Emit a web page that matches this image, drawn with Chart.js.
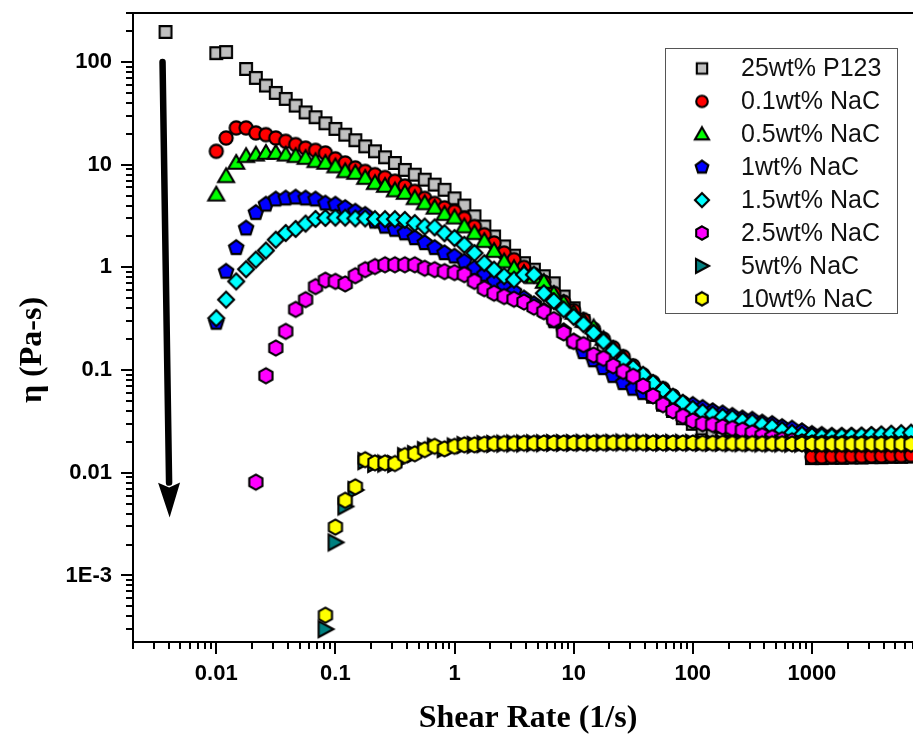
<!DOCTYPE html>
<html lang="en">

<head>
    <meta charset="UTF-8">
    <title>Viscosity vs Shear Rate</title>
    <script src="https://cdn.jsdelivr.net/npm/chart.js"></script>
    <style>
        html, body { margin: 0; padding: 0; background: #fff; overflow: hidden; }
        canvas { display: block; }
    </style>
</head>

<body>
    <canvas id="flowChart" width="960" height="740"></canvas>

    <script>
        // Shear rates (1/s); the first one only belongs to the P123 series
        const shearRate = [0.00375,
            0.01, 0.0121, 0.0147, 0.0178, 0.0215, 0.0261, 0.0316, 0.0383, 0.0464, 0.0562, 0.0681, 0.0825,
            0.1, 0.121, 0.147, 0.178, 0.215, 0.261, 0.316, 0.383, 0.464, 0.562, 0.681, 0.825,
            1, 1.21, 1.47, 1.78, 2.15, 2.61, 3.16, 3.83, 4.64, 5.62, 6.81, 8.25,
            10, 12.1, 14.7, 17.8, 21.5, 26.1, 31.6, 38.3, 46.4, 56.2, 68.1, 82.5,
            100, 121, 147, 178, 215, 261, 316, 383, 464, 562, 681, 825,
            1000, 1210, 1470, 1780, 2150, 2610, 3160, 3830, 4640, 5620, 6810];

        // Viscosity (Pa-s) for each sample, aligned with shearRate
        const p123 = [196,
            122, 125, null, 85.5, 70, 59, 50, 43.7, 37.6, 32.3, 29, 25.3,
            22.3, 19.6, 17.3, 15.1, 13.5, 11.8, 10.4, 8.9, 8.0, 7.15, 6.4, 5.7,
            4.7, 4.0, 3.14, 2.5, 2.0, 1.6, 1.3, 1.1, 0.95, 0.82, 0.7, 0.52,
            0.4, 0.3, 0.22, 0.17, 0.13, 0.105, 0.085, 0.068, 0.055, 0.046, 0.04, 0.034,
            0.03, 0.027, 0.025, 0.024, 0.023, 0.022, 0.021, 0.021, 0.02, 0.02, 0.0195, 0.019,
            0.0139, 0.0139, 0.014, 0.014, 0.0141, 0.0141, 0.0142, 0.0142, 0.0143, 0.0143, 0.0144];

        const nac01 = [null,
            13.5, 18.2, 22.8, 22.8, 20.4, 19.6, 18.2, 16.9, 15.7, 14.5, 13.8, 13.0,
            11.4, 10.4, 9.3, 8.6, 8.0, 7.5, 6.9, 6.2, 5.5, 4.7, 4.2, 3.8,
            3.5, 3.0, 2.5, 2.08, 1.73, 1.38, 1.19, 1.0, 0.85, 0.72, 0.56, 0.46,
            0.38, 0.31, 0.25, 0.2, 0.165, 0.135, 0.11, 0.09, 0.076, 0.066, 0.056, 0.048,
            0.042, 0.037, 0.033, 0.03, 0.028, 0.026, 0.025, 0.024, 0.023, 0.022, 0.0215, 0.021,
            0.0143, 0.0143, 0.0144, 0.0144, 0.0145, 0.0145, 0.0146, 0.0146, 0.0147, 0.0147, 0.0148];

        const nac05 = [null,
            5.1, 7.7, 10.4, 12.1, 12.5, 13.0, 13.0, 12.5, 12.1, 11.6, 10.8, 10.4,
            9.6, 8.6, 8.3, 7.4, 6.6, 6.2, 5.6, 5.3, 4.7, 4.2, 3.8, 3.3,
            3.05, 2.5, 2.15, 1.8, 1.44, 1.14, 0.98, 0.88, 0.8, 0.72, 0.55, 0.45,
            0.36, 0.3, 0.26, 0.2, 0.16, 0.13, 0.105, 0.085, 0.07, 0.058, 0.049, 0.042,
            0.037, 0.033, 0.03, 0.028, 0.026, 0.025, 0.024, 0.023, 0.022, 0.0215, 0.021, 0.0205,
            0.02, 0.02, 0.0199, 0.0198, 0.0197, 0.0196, 0.0195, 0.0195, 0.0195, 0.0195, 0.0195];

        const nac1 = [null,
            0.29, 0.91, 1.55, 2.4, 3.4, 4.1, 4.6, 4.7, 4.8, 4.7, 4.6, 4.2,
            4.1, 3.8, 3.5, 3.26, 2.8, 2.5, 2.33, 2.15, 1.93, 1.73, 1.55, 1.38,
            1.28, 1.14, 0.98, 0.85, 0.73, 0.65, 0.58, 0.5, 0.44, 0.38, 0.3, 0.24,
            0.19, 0.15, 0.125, 0.105, 0.088, 0.075, 0.066, 0.06, 0.056, 0.053, 0.05, 0.048,
            0.046, 0.043, 0.04, 0.038, 0.036, 0.034, 0.033, 0.031, 0.03, 0.028, 0.027, 0.0255,
            0.024, 0.0235, 0.023, 0.023, 0.023, 0.023, 0.0232, 0.0234, 0.0236, 0.0238, 0.024];

        const nac15 = [null,
            0.32, 0.485, 0.73, 0.96, 1.19, 1.46, 1.86, 2.16, 2.37, 2.67, 2.96, 3.03,
            3.05, 3.05, 3.0, 3.0, 2.95, 2.95, 2.95, 2.9, 2.7, 2.5, 2.45, 2.15,
            1.93, 1.66, 1.38, 1.1, 0.95, 0.82, 0.76, 0.85, 0.85, 0.56, 0.47, 0.39,
            0.33, 0.28, 0.23, 0.19, 0.155, 0.125, 0.105, 0.09, 0.075, 0.064, 0.055, 0.048,
            0.042, 0.039, 0.037, 0.035, 0.034, 0.032, 0.031, 0.0295, 0.028, 0.026, 0.0245, 0.0235,
            0.0228, 0.0226, 0.0225, 0.0226, 0.0228, 0.023, 0.0233, 0.0236, 0.024, 0.0243, 0.0246];

        const nac25 = [null,
            null, null, null, null, 0.0081, 0.088, 0.164, 0.238, 0.39, 0.485, 0.65, 0.75,
            0.73, 0.69, 0.83, 0.95, 1.02, 1.06, 1.06, 1.06, 1.06, 0.98, 0.95, 0.91,
            0.89, 0.85, 0.73, 0.62, 0.56, 0.52, 0.49, 0.46, 0.41, 0.37, 0.31, 0.23,
            0.19, 0.177, 0.14, 0.13, 0.11, 0.097, 0.087, 0.07, 0.056, 0.046, 0.04, 0.0355,
            0.032, 0.03, 0.0295, 0.028, 0.027, 0.026, 0.0245, 0.023, 0.022, 0.021, 0.0205, 0.02,
            0.0195, 0.0194, 0.0193, 0.0192, 0.0191, 0.019, 0.019, 0.019, 0.019, 0.019, 0.019];

        const nac5 = [null,
            null, null, null, null, null, null, null, null, null, null, null, 0.0003,
            0.0021, 0.0047, 0.0068, 0.013, 0.0122, 0.0123, 0.0122, 0.0145, 0.0152, 0.0166, 0.018, 0.017,
            0.018, 0.0186, 0.0187, 0.019, 0.0191, 0.0192, 0.0193, 0.0193, 0.0194, 0.0194, 0.0195, 0.0195,
            0.0195, 0.0196, 0.0196, 0.0196, 0.0196, 0.0197, 0.0197, 0.0197, 0.0196, 0.0196, 0.0196, 0.0196,
            0.0196, 0.0195, 0.0195, 0.0195, 0.0194, 0.0194, 0.0194, 0.0193, 0.0193, 0.0193, 0.0192, 0.0192,
            0.0192, 0.0191, 0.0191, 0.0191, 0.0191, 0.0191, 0.0191, 0.0191, 0.0191, 0.0191, 0.0191];

        const nac10 = [null,
            null, null, null, null, null, null, null, null, null, null, null, 0.00041,
            0.00296, 0.0054, 0.0073, 0.0134, 0.0125, 0.0125, 0.0123, 0.0147, 0.0153, 0.0168, 0.0181, 0.0171,
            0.0181, 0.0187, 0.0187, 0.019, 0.0192, 0.0193, 0.0193, 0.0194, 0.0194, 0.0195, 0.0195, 0.0195,
            0.0195, 0.0195, 0.0195, 0.0196, 0.0196, 0.0196, 0.0196, 0.0196, 0.0195, 0.0195, 0.0195, 0.0195,
            0.0195, 0.0194, 0.0194, 0.0194, 0.0193, 0.0193, 0.0193, 0.0192, 0.0192, 0.0192, 0.0191, 0.0191,
            0.0191, 0.019, 0.019, 0.019, 0.019, 0.019, 0.019, 0.019, 0.019, 0.019, 0.019];

        const seriesLabels = ['25wt% P123', '0.1wt% NaC', '0.5wt% NaC', '1wt% NaC',
            '1.5wt% NaC', '2.5wt% NaC', '5wt% NaC', '10wt% NaC'];
        const seriesValues = [p123, nac01, nac05, nac1, nac15, nac25, nac5, nac10];
        const seriesColors = ['#C0C0C0', '#FF0000', '#00FF00', '#0000FF',
            '#00FFFF', '#FF00FF', '#008080', '#FFFF00'];
        const seriesShapes = ['square', 'circle', 'triangle', 'pentagon',
            'diamond', 'hexagon', 'rightTriangle', 'hexagon'];

        const xTickValues = [0.01, 0.1, 1, 10, 100, 1000];
        const xTickLabels = ['0.01', '0.1', '1', '10', '100', '1000'];
        const yTickValues = [0.001, 0.01, 0.1, 1, 10, 100];
        const yTickLabels = ['1E-3', '0.01', '0.1', '1', '10', '100'];

        // arrow annotation: from (x, y) to (x, y) in data units
        const arrowFrom = [0.00354, 100];
        const arrowTo = [0.00406, 0.00366];

        // Origin-style symbols drawn on small canvases
        function makeMarker(shape, fill, k) {
            const size = 22;
            const c = document.createElement('canvas');
            c.width = size;
            c.height = size;
            const g = c.getContext('2d');
            g.translate(size / 2, size / 2);
            g.scale(k, k);
            g.beginPath();
            const poly = (pts) => pts.forEach((p, i) => i ? g.lineTo(p[0], p[1]) : g.moveTo(p[0], p[1]));
            const regular = (n, r) => {
                const pts = [];
                for (let i = 0; i < n; i++) {
                    const a = -Math.PI / 2 + i * 2 * Math.PI / n;
                    pts.push([r * Math.cos(a), r * Math.sin(a)]);
                }
                poly(pts);
            };
            if (shape === 'circle') g.arc(0, 0, 6.6, 0, Math.PI * 2);
            else if (shape === 'square') g.rect(-5.9, -5.9, 11.8, 11.8);
            else if (shape === 'diamond') poly([[0, -8], [8, 0], [0, 8], [-8, 0]]);
            else if (shape === 'triangle') poly([[0, -8], [8, 5.8], [-8, 5.8]]);
            else if (shape === 'rightTriangle') poly([[8, 0], [-6.8, -8], [-6.8, 8]]);
            else if (shape === 'pentagon') regular(5, 7.6);
            else if (shape === 'hexagon') regular(6, 7.6);
            g.closePath();
            g.fillStyle = fill;
            g.fill();
            g.lineWidth = 2.1 / k;
            g.strokeStyle = '#000';
            g.stroke();
            return c;
        }

        const markers = seriesShapes.map((s, i) => makeMarker(s, seriesColors[i], 1));
        const legendMarkers = seriesShapes.map((s, i) => makeMarker(s, seriesColors[i], 0.88));

        const datasets = seriesValues.map((vals, i) => ({
            label: seriesLabels[i],
            data: shearRate.map((x, j) => ({ x: x, y: vals[j] })).filter(p => p.y !== null),
            pointStyle: markers[i],
            pointRadius: 7,
            showLine: false,
            order: seriesValues.length - i   // later samples drawn on top
        }));

        function minorTicks(min, max) {
            const out = [];
            for (let d = -5; d <= 5; d++) {
                for (let m = 2; m <= 9; m++) {
                    const v = m * Math.pow(10, d);
                    if (v >= min && v <= max) out.push(v);
                }
            }
            return out;
        }

        // axes frame, ticks, titles, arrow and legend
        const frame = {
            id: 'frame',
            afterDraw(chart) {
                const ctx = chart.ctx;
                const a = chart.chartArea;
                const xs = chart.scales.x;
                const ys = chart.scales.y;
                ctx.save();
                ctx.strokeStyle = '#000';
                ctx.lineWidth = 2;
                ctx.strokeRect(a.left, a.top, a.right - a.left, a.bottom - a.top);

                ctx.beginPath();
                xTickValues.forEach(v => {
                    const p = Math.round(xs.getPixelForValue(v));
                    ctx.moveTo(p, a.bottom); ctx.lineTo(p, a.bottom + 12);
                });
                minorTicks(xs.min, xs.max).forEach(v => {
                    const p = Math.round(xs.getPixelForValue(v));
                    ctx.moveTo(p, a.bottom); ctx.lineTo(p, a.bottom + 7);
                });
                yTickValues.forEach(v => {
                    const p = Math.round(ys.getPixelForValue(v));
                    ctx.moveTo(a.left, p); ctx.lineTo(a.left - 12, p);
                });
                minorTicks(ys.min, ys.max).forEach(v => {
                    const p = Math.round(ys.getPixelForValue(v));
                    ctx.moveTo(a.left, p); ctx.lineTo(a.left - 7, p);
                });
                ctx.stroke();

                // arrow
                const x0 = xs.getPixelForValue(arrowFrom[0]), y0 = ys.getPixelForValue(arrowFrom[1]);
                const x1 = xs.getPixelForValue(arrowTo[0]), y1 = ys.getPixelForValue(arrowTo[1]);
                const ang = Math.atan2(y1 - y0, x1 - x0);
                const headLen = 35, headHalf = 11;
                const bx = x1 - headLen * Math.cos(ang), by = y1 - headLen * Math.sin(ang);
                ctx.lineWidth = 6.5;
                ctx.lineCap = 'round';
                ctx.beginPath();
                ctx.moveTo(x0, y0);
                ctx.lineTo(bx, by);
                ctx.stroke();
                ctx.beginPath();
                ctx.moveTo(x1, y1);
                ctx.lineTo(bx + headHalf * Math.sin(ang), by - headHalf * Math.cos(ang));
                ctx.lineTo(bx + 5 * Math.cos(ang), by + 5 * Math.sin(ang));
                ctx.lineTo(bx - headHalf * Math.sin(ang), by + headHalf * Math.cos(ang));
                ctx.closePath();
                ctx.fillStyle = '#000';
                ctx.fill();

                // axis titles
                ctx.fillStyle = '#000';
                ctx.font = 'bold 32px "Liberation Serif", "Times New Roman", serif';
                ctx.textAlign = 'center';
                ctx.textBaseline = 'middle';
                ctx.fillText('Shear Rate (1/s)', 528, 719);
                ctx.save();
                ctx.translate(33, 350);
                ctx.rotate(-Math.PI / 2);
                ctx.fillText('\u03B7 (Pa-s)', 0, 0);
                ctx.restore();

                // legend box
                ctx.lineWidth = 1;
                ctx.strokeStyle = '#555';
                ctx.fillStyle = '#fff';
                ctx.fillRect(665.5, 48.5, 232, 265);
                ctx.strokeRect(665.5, 48.5, 232, 265);
                ctx.font = '25px "Liberation Sans", Arial, sans-serif';
                ctx.textAlign = 'left';
                ctx.fillStyle = '#111';
                seriesLabels.forEach((lab, i) => {
                    const cy = 68.5 + i * 32.9;
                    const m = legendMarkers[i];
                    ctx.drawImage(m, 702 - m.width / 2, cy - m.height / 2);
                    ctx.fillText(lab, 741, cy + 1);
                });
                ctx.restore();
            }
        };

        const tickFont = { family: '"Liberation Sans", Arial, sans-serif', size: 22, weight: 'bold' };

        new Chart(document.getElementById('flowChart'), {
            type: 'scatter',
            data: { datasets: datasets },
            options: {
                responsive: false,
                animation: false,
                events: [],
                layout: { padding: { top: 13, right: 29, bottom: 0, left: 0 } },
                plugins: { legend: { display: false }, tooltip: { enabled: false } },
                scales: {
                    x: {
                        type: 'logarithmic',
                        min: 0.002,
                        max: 10000,
                        grid: { display: false },
                        border: { display: false },
                        afterBuildTicks: (s) => { s.ticks = xTickValues.map(v => ({ value: v })); },
                        afterFit: (s) => { s.height = 98; s.paddingLeft = 0; s.paddingRight = 0; },
                        ticks: {
                            autoSkip: false,
                            maxRotation: 0,
                            padding: 11,
                            color: '#000',
                            font: tickFont,
                            callback: (v) => xTickLabels[xTickValues.indexOf(v)]
                        }
                    },
                    y: {
                        type: 'logarithmic',
                        min: 0.000225,
                        max: 300,
                        grid: { display: false },
                        border: { display: false },
                        afterBuildTicks: (s) => { s.ticks = yTickValues.map(v => ({ value: v })); },
                        afterFit: (s) => { s.width = 133; s.paddingTop = 0; s.paddingBottom = 0; },
                        ticks: {
                            autoSkip: false,
                            padding: 13,
                            color: '#000',
                            font: tickFont,
                            callback: (v) => yTickLabels[yTickValues.indexOf(v)]
                        }
                    }
                }
            },
            plugins: [frame]
        });
    </script>
</body>

</html>
